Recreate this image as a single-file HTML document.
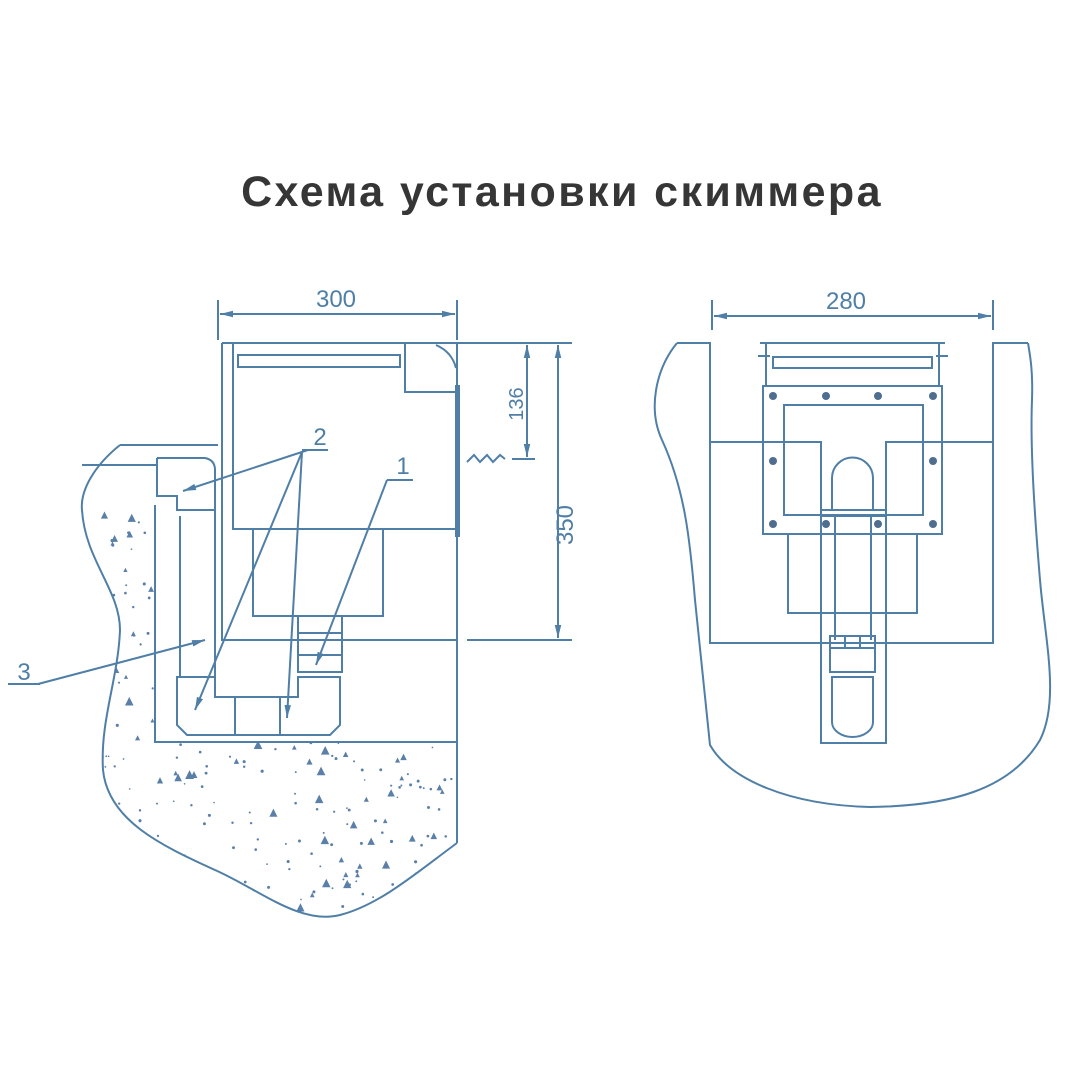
<!DOCTYPE html>
<html><head><meta charset="utf-8"><style>
html,body{margin:0;padding:0;background:#fff;width:1080px;height:1080px;overflow:hidden}
svg{display:block}
</style></head><body>
<svg id="s" width="1080" height="1080" viewBox="0 0 1080 1080" xmlns="http://www.w3.org/2000/svg">
<defs>
<marker id="a" viewBox="0 0 10 10" refX="10" refY="5" markerWidth="13" markerHeight="13" orient="auto-start-reverse" markerUnits="userSpaceOnUse"><path d="M0,2.5 L10,5 L0,7.5 z" fill="#4f7fa6"/></marker>
<clipPath id="cc"><path d="M120,445 C95,465 80,490 82,510 C85,560 120,590 120,630 C118,680 100,720 103,770 C108,820 160,845 215,870 C260,890 300,925 340,915 C380,905 420,870 457,843 L457,742 L155,742 L155,505 L82,505 Z"/></clipPath>
</defs>
<text x="562" y="206" text-anchor="middle" font-family="Liberation Sans, DejaVu Sans, sans-serif" font-weight="bold" font-size="43" letter-spacing="2.4" fill="#363636">Схема установки скиммера</text>
<g id="dots" clip-path="url(#cc)" fill="#5a7fa8"></g>
<g fill="none" stroke="#4f7fa6" stroke-width="2">
<path d="M218,300 V340 M457,300 V340"/>
<line x1="220" y1="314" x2="455" y2="314" marker-start="url(#a)" marker-end="url(#a)"/>
<path d="M222,343 H572 M222,343 V640 H457 M233,343 V529 H457 M457,343 V843"/>
<rect x="238" y="355" width="162" height="12"/>
<path d="M405,343 V392 H457 M436,345 Q452,352 456,368"/>
<path d="M253,529 V616 H383 V529"/>
<path d="M298,616 H342 V672 H298 Z M298,633 H342 M298,655 H342"/>
<path d="M120,445 H218 M82,465 H157 M157,458 H205 Q215,460 215,470 V680 M157,458 V496 H177 V510 H215 M180,516 V677 M155,505 V742 H457"/>
<path d="M177,677 H215 V697 H235 V735 H187 L177,725 Z M235,697 H280 V735 H235 M280,697 H298 V677 H340 V725 L330,735 H280 Z"/>
<path d="M120,445 C95,465 80,490 82,510 C85,560 120,590 120,630 C118,680 100,720 103,770 C108,820 160,845 215,870 C260,890 300,925 340,915 C380,905 420,870 457,843"/>
<line x1="558" y1="345" x2="558" y2="638" marker-start="url(#a)" marker-end="url(#a)"/>
<path d="M467,640 H572"/>
<line x1="527" y1="345" x2="527" y2="457" marker-start="url(#a)" marker-end="url(#a)"/>
<path d="M512,459 H535 M467,462 L474,455 L480,462 L487,455 L493,462 L500,455 L505,459"/>
<line x1="308" y1="450" x2="183" y2="491" marker-end="url(#a)"/>
<line x1="302" y1="452" x2="195" y2="710" marker-end="url(#a)"/>
<line x1="302" y1="452" x2="287" y2="718" marker-end="url(#a)"/>
<path d="M302,450 H328"/>
<path d="M387,480 H413"/>
<line x1="387" y1="480" x2="316" y2="665" marker-end="url(#a)"/>
<path d="M8,684 H40"/>
<line x1="38" y1="684" x2="205" y2="640" marker-end="url(#a)"/>
<path d="M712,300 V330 M993,300 V330"/>
<line x1="714" y1="316" x2="991" y2="316" marker-start="url(#a)" marker-end="url(#a)"/>
<path d="M677,343 H710 V643 H993 V343 H1028"/>
<path d="M677,343 C655,370 648,410 662,440 C685,490 690,540 695,600 C700,650 705,700 710,745 C730,780 790,805 870,807 C950,806 1010,790 1040,740 C1060,700 1045,640 1040,580 C1035,520 1030,450 1032,400 C1033,370 1030,355 1028,343"/>
<path d="M710,442 H821 V743 H886 V442 H993"/>
<path d="M760,343 H945 M766,343 V386 M939,343 V386 M758,356 H770 M936,356 H948"/>
<rect x="773" y="357" width="159" height="11"/>
<rect x="763" y="386" width="179" height="148"/>
<rect x="784" y="405" width="139" height="110"/>
<path d="M788,534 V613 H917 V534"/>
<path d="M821,510 H886 M821,516 H886"/>
<path d="M832,510 V478 A20.5,20.5 0 0 1 873,478 V510"/>
<path d="M835,516 V640 M871,516 V640 M830,636 H875 V672 H830 Z M830,648 H875 M845,636 V648 M860,636 V648"/>
<path d="M832,677 H873 V722 A20.5,15 0 0 1 832,722 Z"/>
</g>
<g fill="#4f6e8f">
<circle cx="773" cy="396" r="4"/><circle cx="826" cy="396" r="4"/><circle cx="878" cy="396" r="4"/><circle cx="933" cy="396" r="4"/>
<circle cx="773" cy="461" r="4"/><circle cx="933" cy="461" r="4"/>
<circle cx="773" cy="524" r="4"/><circle cx="826" cy="524" r="4"/><circle cx="878" cy="524" r="4"/><circle cx="933" cy="524" r="4"/>
</g>
<rect x="455" y="385" width="5" height="152" fill="#4f7fa6"/>
<g font-family="Liberation Sans, DejaVu Sans, sans-serif" font-size="24" fill="#4f7fa6">
<text x="336" y="307" text-anchor="middle">300</text>
<text x="846" y="309" text-anchor="middle">280</text>
<text x="320" y="445" text-anchor="middle">2</text>
<text x="403" y="474" text-anchor="middle">1</text>
<text x="24" y="680" text-anchor="middle">3</text>
<text transform="translate(523,404) rotate(-90)" text-anchor="middle" font-size="20">136</text>
<text transform="translate(573,525) rotate(-90)" text-anchor="middle">350</text>
</g>
</svg>
<script>
var g=document.getElementById('dots'),s=7,ns='http://www.w3.org/2000/svg';
function r(){s=(s*16807)%2147483647;return s/2147483647;}
for(var i=0;i<420;i++){var x=80+r()*380,y=500+r()*420,c;
if(r()<0.25){c=document.createElementNS(ns,'path');var k=2+r()*2.5;c.setAttribute('d','M'+x+','+y+' l'+k+','+(-2*k)+' l'+k+','+(2*k)+'z');}
else{c=document.createElementNS(ns,'circle');c.setAttribute('cx',x);c.setAttribute('cy',y);c.setAttribute('r',0.8+r()*0.8);}
g.appendChild(c);}
</script>
</body></html>
